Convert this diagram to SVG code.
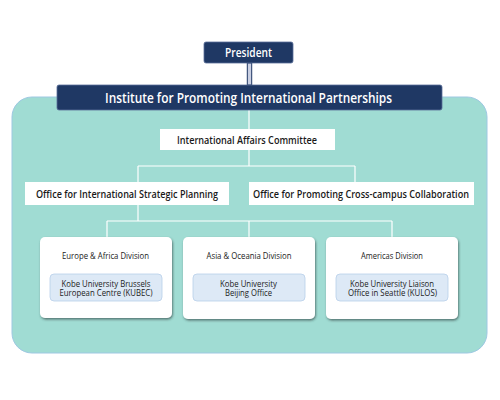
<svg xmlns="http://www.w3.org/2000/svg" width="500" height="400" viewBox="0 0 500 400">
<defs>
<filter id="sh" x="-10%" y="-10%" width="120%" height="130%">
<feDropShadow dx="0.8" dy="1.5" stdDeviation="0.9" flood-color="#2a3a3a" flood-opacity="0.65"/>
</filter>
<style>
text{font-family:"Open Sans","Noto Sans","DejaVu Sans",sans-serif;text-anchor:middle;dominant-baseline:central}
.navy{fill:#1f3864;stroke:#5b6f9a;stroke-width:0.8}
.wt{fill:#ffffff;font-weight:600}
.box{fill:#ffffff}
.bt{fill:#1a1a1a;font-weight:600;font-size:10px}
.div{fill:#ffffff;filter:url(#sh)}
.dt{fill:#222;font-size:8.5px}
.inner{fill:#dde9f6;stroke:#b7cfea;stroke-width:0.8}
.it{fill:#222;font-size:8.5px;font-weight:500}
.conn{fill:none;stroke:#ffffff;stroke-width:1.2}
</style>
</defs>
<rect x="0" y="0" width="500" height="400" fill="#ffffff"/>
<rect id="container" x="12" y="97" width="475" height="256" rx="20" fill="#a0dcd3" stroke="#9ec8e2" stroke-width="1"/>
<g id="connectors">
<rect x="247.3" y="63" width="4.4" height="22" fill="#c9cfe2" stroke="#1f3864" stroke-width="1"/>
<path class="conn" d="M249 110 V129 M249 150 V166 M138 166 H355 M138 166 V182 M355 166 V182 M138 205 V221 M107 221 H392 M107 221 V237 M249 221 V237 M392 221 V237"/>
</g>
<g id="president">
<rect class="navy" x="204" y="42" width="89" height="21" rx="2"/>
<text class="wt" x="248.5" y="52.5" font-size="12" textLength="47" lengthAdjust="spacingAndGlyphs">President</text>
</g>
<g id="institute">
<rect class="navy" x="57" y="85" width="385" height="25" rx="2"/>
<text class="wt" x="248.5" y="97.5" font-size="14" textLength="287" lengthAdjust="spacingAndGlyphs">Institute for Promoting International Partnerships</text>
</g>
<g id="committee">
<rect class="box" x="160" y="129" width="175" height="21"/>
<text class="bt" x="247" y="139.5" textLength="140" lengthAdjust="spacingAndGlyphs">International Affairs Committee</text>
</g>
<g id="office-strategic">
<rect class="box" x="25" y="182" width="204" height="23"/>
<text class="bt" x="127" y="193.5" textLength="182" lengthAdjust="spacingAndGlyphs">Office for International Strategic Planning</text>
</g>
<g id="office-cross">
<rect class="box" x="249" y="182" width="225" height="23"/>
<text class="bt" x="361" y="193.5" textLength="216" lengthAdjust="spacingAndGlyphs">Office for Promoting Cross-campus Collaboration</text>
</g>
<g id="europe-africa">
<rect class="div" x="40" y="237" width="132" height="81" rx="5"/>
<text class="dt" x="105.5" y="255" textLength="87" lengthAdjust="spacingAndGlyphs">Europe &amp; Africa Division</text>
<rect class="inner" x="50" y="274" width="112" height="27" rx="4"/>
<text class="it" x="106" y="283" textLength="89" lengthAdjust="spacingAndGlyphs">Kobe University Brussels</text>
<text class="it" x="106" y="292.5" textLength="93" lengthAdjust="spacingAndGlyphs">European Centre (KUBEC)</text>
</g>
<g id="asia-oceania">
<rect class="div" x="183" y="237" width="132" height="82" rx="5"/>
<text class="dt" x="249" y="255" textLength="85" lengthAdjust="spacingAndGlyphs">Asia &amp; Oceania Division</text>
<rect class="inner" x="193" y="274" width="112" height="27" rx="4"/>
<text class="it" x="248.5" y="283" textLength="57" lengthAdjust="spacingAndGlyphs">Kobe University</text>
<text class="it" x="248.5" y="292.5" textLength="47" lengthAdjust="spacingAndGlyphs">Beijing Office</text>
</g>
<g id="americas">
<rect class="div" x="326" y="237" width="132" height="82" rx="5"/>
<text class="dt" x="392" y="255" textLength="62" lengthAdjust="spacingAndGlyphs">Americas Division</text>
<rect class="inner" x="336" y="274" width="112" height="27" rx="4"/>
<text class="it" x="392" y="283" textLength="84" lengthAdjust="spacingAndGlyphs">Kobe University Liaison</text>
<text class="it" x="392.5" y="292.5" textLength="89" lengthAdjust="spacingAndGlyphs">Office in Seattle (KULOS)</text>
</g>
</svg>
